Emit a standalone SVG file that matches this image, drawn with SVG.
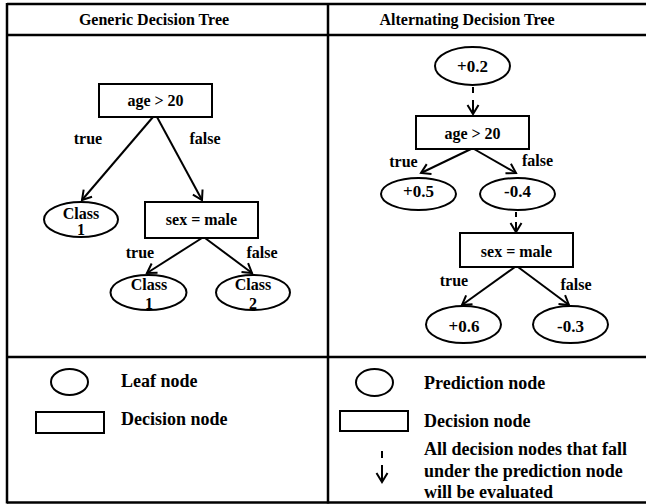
<svg xmlns="http://www.w3.org/2000/svg" width="646" height="504" viewBox="0 0 646 504">
<style>
text{font-family:"Liberation Serif","Times New Roman",serif;font-weight:bold;fill:#000}
.t16{font-size:16px}
.t17{font-size:17px}
.t18{font-size:18px}
.c{text-anchor:middle}
.shape{fill:#fff;stroke:#000;stroke-width:2}
.edge{fill:none;stroke:#000;stroke-width:2}
.grid{stroke:#000;stroke-width:2.5;fill:none}
</style>
<defs>
<marker id="arr" markerUnits="userSpaceOnUse" markerWidth="12" markerHeight="12" orient="auto" overflow="visible" refX="0" refY="0">
<path d="M-9,-5.5 L0,0 L-9,5.5" fill="none" stroke="#000" stroke-width="2"/>
</marker>
</defs>
<rect width="646" height="504" fill="#fff"/>
<g id="table">
<line class="grid" x1="7" y1="4" x2="646" y2="4"/>
<line class="grid" x1="7" y1="35" x2="646" y2="35"/>
<line class="grid" x1="7" y1="357" x2="646" y2="357"/>
<line class="grid" x1="7" y1="502.5" x2="646" y2="502.5"/>
<line class="grid" x1="7" y1="3" x2="7" y2="503.5"/>
<line class="grid" x1="328" y1="3" x2="328" y2="503.5"/>
<text class="t16 c" x="154" y="25">Generic Decision Tree</text>
<text class="t16 c" x="467" y="25">Alternating Decision Tree</text>
</g>
<g id="connectors">
<line class="edge" x1="153" y1="117" x2="82" y2="200" marker-end="url(#arr)"/>
<line class="edge" x1="157" y1="117" x2="202" y2="200" marker-end="url(#arr)"/>
<line class="edge" x1="202" y1="238" x2="147" y2="273" marker-end="url(#arr)"/>
<line class="edge" x1="205" y1="238" x2="252" y2="273" marker-end="url(#arr)"/>
<line class="edge" x1="473" y1="87" x2="473" y2="114" stroke-dasharray="6 7 40" marker-end="url(#arr)"/>
<line class="edge" x1="471" y1="149" x2="421" y2="173" marker-end="url(#arr)"/>
<line class="edge" x1="474" y1="149" x2="516" y2="173" marker-end="url(#arr)"/>
<line class="edge" x1="516" y1="212" x2="516" y2="232" stroke-dasharray="5 5 40" marker-end="url(#arr)"/>
<line class="edge" x1="515" y1="267" x2="462" y2="305" marker-end="url(#arr)"/>
<line class="edge" x1="518" y1="267" x2="569" y2="305" marker-end="url(#arr)"/>
<text class="t16 c" x="88" y="144">true</text>
<text class="t16 c" x="205" y="144">false</text>
<text class="t16 c" x="140" y="258">true</text>
<text class="t16 c" x="262" y="258">false</text>
<text class="t16 c" x="403.5" y="167">true</text>
<text class="t16 c" x="537.5" y="166">false</text>
<text class="t16 c" x="454" y="286">true</text>
<text class="t16 c" x="576" y="290">false</text>
</g>
<g id="g-age">
<rect class="shape" x="99" y="84" width="113" height="33"/>
<text class="t16 c" x="155.5" y="106">age &gt; 20</text>
</g>
<g id="g-class1a">
<ellipse class="shape" cx="81" cy="219.5" rx="37" ry="17.5"/>
<text class="t16 c" x="81" y="219">Class</text>
<text class="t16 c" x="81" y="235">1</text>
</g>
<g id="g-sex">
<rect class="shape" x="145" y="202" width="113" height="36"/>
<text class="t16 c" x="201.5" y="225">sex = male</text>
</g>
<g id="g-class1b">
<ellipse class="shape" cx="148.5" cy="292.5" rx="38" ry="17.5"/>
<text class="t16 c" x="149" y="290">Class</text>
<text class="t16 c" x="149" y="309">1</text>
</g>
<g id="g-class2">
<ellipse class="shape" cx="253" cy="292.5" rx="37" ry="17.5"/>
<text class="t16 c" x="253" y="290">Class</text>
<text class="t16 c" x="253" y="309">2</text>
</g>
<g id="a-p02">
<ellipse class="shape" cx="472.5" cy="66" rx="37.5" ry="19"/>
<text class="t17 c" x="472.5" y="72">+0.2</text>
</g>
<g id="a-age">
<rect class="shape" x="416" y="116" width="113" height="33"/>
<text class="t16 c" x="472.5" y="139">age &gt; 20</text>
</g>
<g id="a-p05">
<ellipse class="shape" cx="418.5" cy="194" rx="37.5" ry="16"/>
<text class="t17 c" x="418.5" y="197">+0.5</text>
</g>
<g id="a-m04">
<ellipse class="shape" cx="517.5" cy="194" rx="37.5" ry="16"/>
<text class="t17 c" x="517.5" y="197">-0.4</text>
</g>
<g id="a-sex">
<rect class="shape" x="460" y="233" width="113" height="34"/>
<text class="t16 c" x="516.5" y="257">sex = male</text>
</g>
<g id="a-p06">
<ellipse class="shape" cx="463.5" cy="324.5" rx="37.5" ry="18.5"/>
<text class="t17 c" x="464" y="332">+0.6</text>
</g>
<g id="a-m03">
<ellipse class="shape" cx="570.5" cy="324.5" rx="37.5" ry="18.5"/>
<text class="t17 c" x="570.5" y="332">-0.3</text>
</g>
<g id="legend-left">
<ellipse class="shape" cx="69.5" cy="382" rx="18.5" ry="13"/>
<text class="t18" x="121" y="387">Leaf node</text>
<rect class="shape" x="36" y="412" width="68" height="21"/>
<text class="t18" x="121" y="425">Decision node</text>
</g>
<g id="legend-right">
<ellipse class="shape" cx="374.5" cy="382.5" rx="18.5" ry="13.5"/>
<text class="t18" x="424" y="389">Prediction node</text>
<rect class="shape" x="340" y="411" width="68" height="20"/>
<text class="t18" x="424" y="427">Decision node</text>
<line class="edge" x1="382" y1="451" x2="382" y2="482" stroke-dasharray="7 7 40" marker-end="url(#arr)"/>
<text class="t18" x="424" y="455">All decision nodes that fall</text>
<text class="t18" x="424" y="477">under the prediction node</text>
<text class="t18" x="424" y="498">will be evaluated</text>
</g>
</svg>
